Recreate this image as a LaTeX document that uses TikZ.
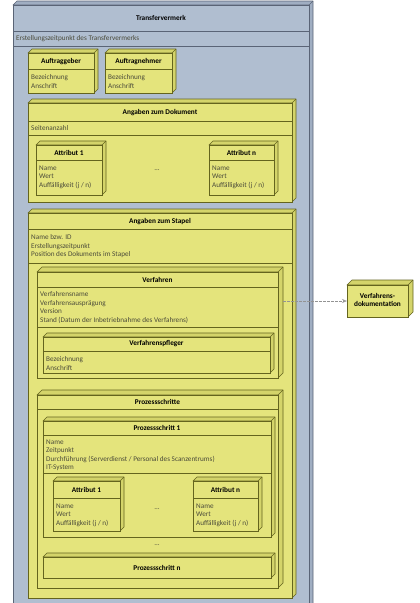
\documentclass[tikz,border=0pt]{standalone}
\usepackage{fontspec}
\setmainfont{Carlito}
\usetikzlibrary{arrows.meta,fit}
\definecolor{nodefill}{RGB}{228,228,124}
\definecolor{nodeside}{RGB}{212,212,106}
\definecolor{nodeedge}{RGB}{100,100,30}
\definecolor{framefill}{RGB}{176,190,208}
\definecolor{frameside}{RGB}{160,174,194}
\definecolor{frameedge}{RGB}{90,100,118}
\definecolor{txt}{RGB}{75,75,58}
\tikzset{
  ubox/.style={draw=nodeedge, fill=nodefill, line width=0.6pt, inner sep=0pt, outer sep=0pt},
  uside/.style={draw=nodeedge, fill=nodeside, line width=0.6pt, line join=round},
  fbox/.style={draw=frameedge, fill=framefill, line width=0.6pt, inner sep=0pt, outer sep=0pt},
  fside/.style={draw=frameedge, fill=frameside, line width=0.6pt, line join=round},
  head/.style={font=\fontsize{7.3}{8.5}\selectfont\bfseries, text=black, inner sep=0pt, align=center},
  attr/.style={font=\fontsize{7.2}{8.6}\selectfont, text=txt, anchor=north west, align=left, inner sep=0pt},
  usep/.style={draw=nodeedge, line width=0.6pt},
  fsep/.style={draw=frameedge, line width=0.6pt},
  dep/.style={draw=gray!85, line width=0.6pt, dash pattern=on 2.5pt off 1.5pt, -{Stealth[open, length=5pt, width=4pt]}},
}
% #1 front style, #2 side style, #3 name, #4 x1, #5 y1, #6 x2, #7 y2, #8 depth
\newcommand\cubebox[8]{%
  \path[#2] (#4,#5) -- (#4+#8,#5-#8) -- (#6+#8,#5-#8) -- (#6+#8,#7-#8) -- (#6,#7) -- (#6,#5) -- cycle;
  \node[#1, fit={(#4,#5) (#6,#7)}] (#3) {};
  \path[#2, fill=none] (#6,#5) -- (#6+#8,#5-#8);
}
\begin{document}
\begin{tikzpicture}[x=1pt, y=-1pt]
\useasboundingbox (0,0) rectangle (420,603);
\clip (0,0) rectangle (420,603);
% outer frame
\cubebox{fbox}{fside}{frame}{13}{5}{309}{640}{4}
\node[head] (frame-t) at (161,18) {Transfervermerk};
\draw[fsep] (13,31) -- (309,31);
\node[attr, anchor=west] (frame-a) at (16,38.5) {Erstellungszeitpunkt des Transfervermerks};
\draw[fsep] (13,46) -- (309,46);

% Auftraggeber
\cubebox{ubox}{uside}{ag}{28}{53}{94}{93}{4}
\node[head] (ag-t) at (61,62) {Auftraggeber};
\draw[usep] (28,69) -- (94,69);
\node[attr] (ag-a) at (31,74.3) {Bezeichnung\\Anschrift};

% Auftragnehmer
\cubebox{ubox}{uside}{an}{105}{53}{172}{93}{4}
\node[head] (an-t) at (138.5,62) {Auftragnehmer};
\draw[usep] (105,69) -- (172,69);
\node[attr] (an-a) at (108,74.3) {Bezeichnung\\Anschrift};

% Angaben zum Dokument
\cubebox{ubox}{uside}{dok}{28}{103}{292}{202}{4}
\node[head] (dok-t) at (160,113) {Angaben zum Dokument};
\draw[usep] (28,121) -- (292,121);
\node[attr, anchor=west] (dok-a) at (31,128) {Seitenanzahl};
\draw[usep] (28,135) -- (292,135);

\cubebox{ubox}{uside}{da1}{36}{145}{102}{195}{4}
\node[head] (da1-t) at (69,153) {Attribut 1};
\draw[usep] (36,160) -- (102,160);
\node[attr] (da1-a) at (39,165.3) {Name\\Wert\\Auffälligkeit (j / n)};

\cubebox{ubox}{uside}{dan}{209}{145}{274}{195}{4}
\node[head] (dan-t) at (241.5,153) {Attribut n};
\draw[usep] (209,160) -- (274,160);
\node[attr] (dan-a) at (212,165.3) {Name\\Wert\\Auffälligkeit (j / n)};

\node[attr, anchor=center] (dok-dots) at (157,170) {...};

% Angaben zum Stapel
\cubebox{ubox}{uside}{st}{28}{213}{292}{598}{4}
\node[head] (st-t) at (160,222) {Angaben zum Stapel};
\draw[usep] (28,229) -- (292,229);
\node[attr] (st-a) at (31,234.3) {Name bzw. ID\\Erstellungszeitpunkt\\Position des Dokuments im Stapel};
\draw[usep] (28,263) -- (292,263);

% Verfahren
\cubebox{ubox}{uside}{vf}{37}{272}{278}{378}{5}
\node[head] (vf-t) at (157.5,279.5) {Verfahren};
\draw[usep] (37,287) -- (278,287);
\node[attr] (vf-a) at (40,291.3) {Verfahrensname\\Verfahrensausprägung\\Version\\Stand (Datum der Inbetriebnahme des Verfahrens)};
\draw[usep] (37,327) -- (278,327);

\cubebox{ubox}{uside}{vp}{43}{337}{270}{373}{4}
\node[head] (vp-t) at (156.5,344) {Verfahrenspfleger};
\draw[usep] (43,351) -- (270,351);
\node[attr] (vp-a) at (46,356.3) {Bezeichnung\\Anschrift};

% Prozessschritte
\cubebox{ubox}{uside}{ps}{37}{395}{278}{588}{5}
\node[head] (ps-t) at (157.5,402) {Prozessschritte};
\draw[usep] (37,409) -- (278,409);

\cubebox{ubox}{uside}{ps1}{43}{421}{271}{537}{4}
\node[head] (ps1-t) at (157,428) {Prozessschritt 1};
\draw[usep] (43,435) -- (271,435);
\node[attr] (ps1-a) at (46,439.3) {Name\\Zeitpunkt\\Durchführung (Serverdienst / Personal des Scanzentrums)\\IT-System};
\draw[usep] (43,473) -- (271,473);

\cubebox{ubox}{uside}{pa1}{53}{481}{120}{531}{4}
\node[head] (pa1-t) at (86.5,490) {Attribut 1};
\draw[usep] (53,498) -- (120,498);
\node[attr] (pa1-a) at (56,503.3) {Name\\Wert\\Auffälligkeit (j / n)};

\cubebox{ubox}{uside}{pan}{193}{481}{258}{531}{4}
\node[head] (pan-t) at (225.5,490) {Attribut n};
\draw[usep] (193,498) -- (258,498);
\node[attr] (pan-a) at (196,503.3) {Name\\Wert\\Auffälligkeit (j / n)};

\node[attr, anchor=center] (pa-dots) at (157,509) {...};
\node[attr, anchor=center] (ps-dots) at (157,545) {...};

\cubebox{ubox}{uside}{psn}{43}{557}{271}{578}{4}
\node[head] (psn-t) at (157,568) {Prozessschritt n};

% Verfahrensdokumentation
\cubebox{ubox}{uside}{vd}{347}{285}{408}{317}{5}
\node[head] (vd-t) at (377.5,300) {Verfahrens-\\dokumentation};

\path (vf.east |- vd.west) ++(5,0) coordinate (vstart);
\draw[dep] (vstart) -- (vd.west);
\end{tikzpicture}
\end{document}
